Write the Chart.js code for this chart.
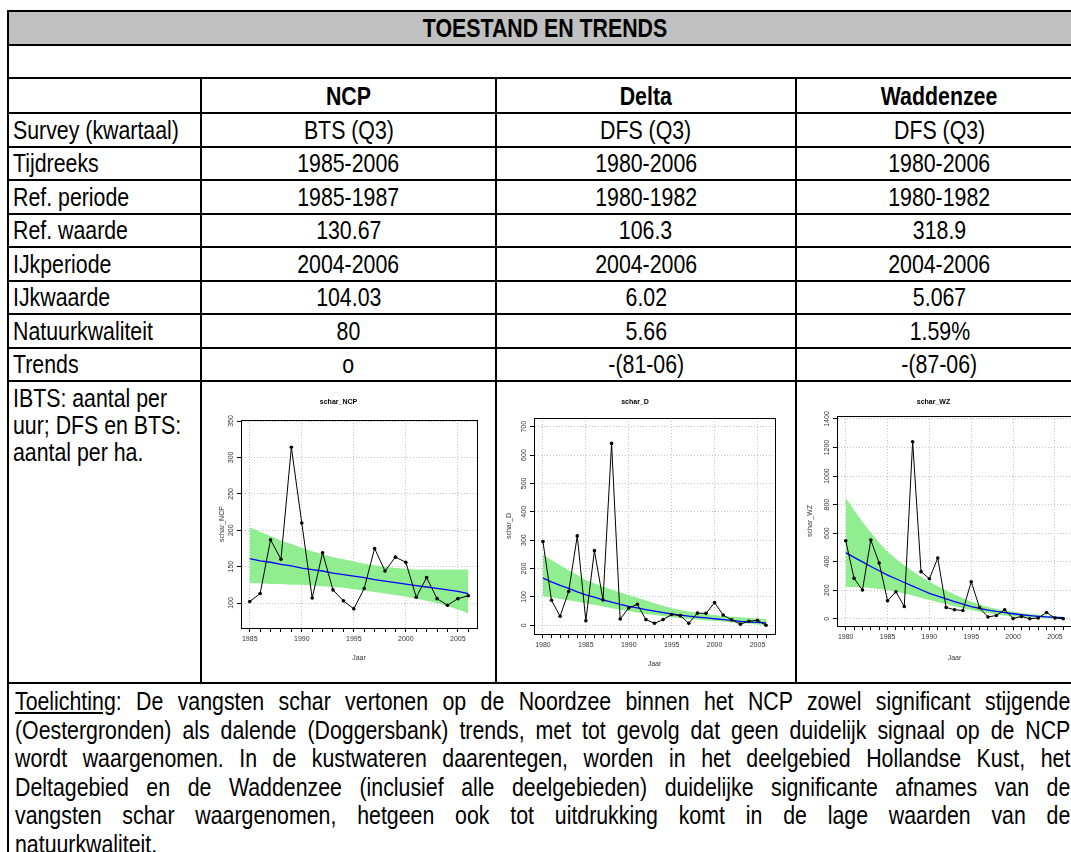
<!DOCTYPE html>
<html>
<head>
<meta charset="utf-8">
<script src="https://cdn.jsdelivr.net/npm/chart.js@4.4.1/dist/chart.umd.min.js"></script>
<style>
body { margin:0; width:1071px; height:852px; overflow:hidden; background:#fff; position:relative;
       font-family:"Liberation Sans", Arial, sans-serif; }
table { position:absolute; left:7px; top:10px; width:1075px; border-collapse:collapse; table-layout:fixed; font-size:26px; color:#000; }
td { border:2px solid #000; padding:0 4px; white-space:nowrap; overflow:hidden; line-height:28px; }
td.c { text-align:center; }
tr.kop td { background:#c0c0c0; text-align:center; font-weight:bold; }
tr.head td { font-weight:bold; text-align:center; }
/* smalle letter: Liberation Sans horizontaal samengedrukt */
.n { display:inline-block; transform:scaleX(0.82); transform-origin:left center; }
td.c .n, tr.kop .n, tr.head .n { transform-origin:center center; }
td.info { vertical-align:top; padding-top:3px; line-height:27px; }
td.toel { vertical-align:top; padding:3px 12px 0 6px; }
.regels { width:1287px; transform:scaleX(0.82); transform-origin:left top; line-height:28.5px; }
.regels div { text-align:justify; text-align-last:justify; white-space:nowrap; }
.regels div.laatste { text-align-last:left; }
.graf { position:absolute; }
</style>
</head>
<body>
<table>
  <colgroup><col style="width:193px"><col style="width:295px"><col style="width:300px"><col style="width:287px"></colgroup>
  <tr class="kop" style="height:34px"><td colspan="4"><span class="n">TOESTAND EN TRENDS</span></td></tr>
  <tr style="height:33px"><td colspan="4"></td></tr>
  <tr class="head" style="height:35px"><td></td><td><span class="n">NCP</span></td><td><span class="n">Delta</span></td><td><span class="n">Waddenzee</span></td></tr>
  <tr style="height:33.5px"><td><span class="n">Survey (kwartaal)</span></td><td class="c"><span class="n">BTS (Q3)</span></td><td class="c"><span class="n">DFS (Q3)</span></td><td class="c"><span class="n">DFS (Q3)</span></td></tr>
  <tr style="height:33.5px"><td><span class="n">Tijdreeks</span></td><td class="c"><span class="n">1985-2006</span></td><td class="c"><span class="n">1980-2006</span></td><td class="c"><span class="n">1980-2006</span></td></tr>
  <tr style="height:33.5px"><td><span class="n">Ref. periode</span></td><td class="c"><span class="n">1985-1987</span></td><td class="c"><span class="n">1980-1982</span></td><td class="c"><span class="n">1980-1982</span></td></tr>
  <tr style="height:33.5px"><td><span class="n">Ref. waarde</span></td><td class="c"><span class="n">130.67</span></td><td class="c"><span class="n">106.3</span></td><td class="c"><span class="n">318.9</span></td></tr>
  <tr style="height:33.5px"><td><span class="n">IJkperiode</span></td><td class="c"><span class="n">2004-2006</span></td><td class="c"><span class="n">2004-2006</span></td><td class="c"><span class="n">2004-2006</span></td></tr>
  <tr style="height:33.5px"><td><span class="n">IJkwaarde</span></td><td class="c"><span class="n">104.03</span></td><td class="c"><span class="n">6.02</span></td><td class="c"><span class="n">5.067</span></td></tr>
  <tr style="height:33.5px"><td><span class="n">Natuurkwaliteit</span></td><td class="c"><span class="n">80</span></td><td class="c"><span class="n">5.66</span></td><td class="c"><span class="n">1.59%</span></td></tr>
  <tr style="height:33.5px"><td><span class="n">Trends</span></td><td class="c"><span class="n">o</span></td><td class="c"><span class="n">-(81-06)</span></td><td class="c"><span class="n">-(87-06)</span></td></tr>
  <tr style="height:302px"><td class="info"><span class="n">IBTS: aantal per<br>uur; DFS en BTS:<br>aantal per ha.</span></td><td></td><td></td><td></td></tr>
  <tr style="height:200px"><td colspan="4" class="toel"><div class="regels">
    <div><u>Toelichting</u>: De vangsten schar vertonen op de Noordzee binnen het NCP zowel significant stijgende</div>
    <div>(Oestergronden) als dalende (Doggersbank) trends, met tot gevolg dat geen duidelijk signaal op de NCP</div>
    <div>wordt waargenomen. In de kustwateren daarentegen, worden in het deelgebied Hollandse Kust, het</div>
    <div>Deltagebied en de Waddenzee (inclusief alle deelgebieden) duidelijke significante afnames van de</div>
    <div>vangsten schar waargenomen, hetgeen ook tot uitdrukking komt in de lage waarden van de</div>
    <div class="laatste">natuurkwaliteit.</div>
  </div></td></tr>
</table>

<div class="graf" style="left:200px;top:381px;width:318px;height:300px"><canvas id="grafNCP" width="318" height="300"></canvas></div>
<div class="graf" style="left:495px;top:381px;width:319px;height:300px"><canvas id="grafD" width="319" height="300"></canvas></div>
<div class="graf" style="left:795px;top:381px;width:319px;height:300px"><canvas id="grafWZ" width="319" height="300"></canvas></div>

<script>
// jaartallen met een label op de x-as
const jaarLabels = [1980, 1985, 1990, 1995, 2000, 2005];

// NCP (BTS)
const ncpJaren = [1985, 1986, 1987, 1988, 1989, 1990, 1991, 1992, 1993, 1994, 1995, 1996, 1997, 1998, 1999, 2000, 2001, 2002, 2003, 2004, 2005, 2006];
const ncpWaarden = [102, 113, 187, 160, 314, 210, 107, 169, 118, 103, 92, 120, 175, 144, 163, 156, 108, 135, 106, 97, 106, 110];
const ncpTrend = [161, 158, 156, 153, 151, 148, 146, 144, 141, 139, 137, 135, 132, 130, 128, 126, 124, 122, 120, 118, 116, 113];
const ncpBoven = [204, 198, 192, 186, 181, 176, 171, 167, 163, 160, 157, 154, 152, 150, 148, 147, 146, 146, 146, 146, 146, 146];
const ncpOnder = [127, 127, 126, 126, 125, 125, 124, 123, 122, 121, 119, 117, 115, 113, 111, 109, 106, 103, 100, 96, 91, 86];
const ncpYTicks = [100, 150, 200, 250, 300, 350];

// Delta (DFS)
const deltaJaren = [1980, 1981, 1982, 1983, 1984, 1985, 1986, 1987, 1988, 1989, 1990, 1991, 1992, 1993, 1994, 1995, 1996, 1997, 1998, 1999, 2000, 2001, 2002, 2003, 2004, 2005, 2006];
const deltaWaarden = [295, 88, 32, 119, 315, 16, 263, 89, 641, 22, 61, 74, 20, 7, 20, 38, 34, 7, 43, 42, 80, 36, 19, 4, 14, 18, 0];
const deltaTrend = [166, 153, 141, 130, 118, 107, 99, 90, 82, 74, 67, 61, 55, 50, 45, 40, 36, 32, 29, 26, 23, 20, 17, 14, 12, 10, 8];
const deltaBoven = [250, 230, 212, 194, 177, 160, 148, 136, 126, 116, 107, 97, 87, 78, 69, 60, 54, 49, 44, 40, 36, 33, 30, 28, 26, 24, 22];
const deltaOnder = [103, 98, 93, 88, 83, 78, 72, 66, 60, 55, 50, 45, 40, 36, 32, 28, 25, 22, 20, 17, 15, 13, 10, 8, 6, 3, 1];
const deltaYTicks = [0, 100, 200, 300, 400, 500, 600, 700];

// Waddenzee (DFS)
const wzJaren = [1980, 1981, 1982, 1983, 1984, 1985, 1986, 1987, 1988, 1989, 1990, 1991, 1992, 1993, 1994, 1995, 1996, 1997, 1998, 1999, 2000, 2001, 2002, 2003, 2004, 2005, 2006];
const wzWaarden = [547, 283, 201, 552, 390, 126, 189, 86, 1241, 330, 280, 425, 79, 63, 58, 259, 77, 12, 23, 63, 2, 16, 0, 5, 44, 5, 0];
const wzTrend = [463, 430, 398, 366, 336, 306, 280, 254, 228, 203, 178, 158, 139, 120, 102, 84, 72, 61, 51, 43, 35, 28, 22, 17, 13, 10, 7];
const wzBoven = [848, 760, 680, 605, 535, 470, 420, 375, 333, 295, 260, 228, 198, 170, 143, 119, 100, 83, 70, 58, 49, 40, 33, 27, 22, 18, 14];
const wzOnder = [224, 222, 219, 215, 209, 201, 190, 177, 163, 147, 131, 116, 101, 87, 74, 61, 49, 38, 29, 22, 16, 12, 8, 5, 3, 2, 1];
const wzYTicks = [0, 200, 400, 600, 800, 1000, 1200, 1400];

const letter = {family: 'Liberation Sans, Arial, sans-serif', size: 7};

// kader rond het plotgebied
const kader = {
    id: 'kader',
    afterDraw(chart) {
        const a = chart.chartArea;
        const ctx = chart.ctx;
        ctx.save();
        ctx.strokeStyle = '#000';
        ctx.lineWidth = 1;
        ctx.strokeRect(Math.round(a.left) + 0.5, Math.round(a.top) + 0.5, Math.round(a.right - a.left), Math.round(a.bottom - a.top));
        ctx.restore();
    }
};

function grafiek(id, titel, yTitel, jaren, waarden, trend, boven, onder, yTicks, yMin, yMax, xMin, xMax, maat) {
    const punten = (lijst) => jaren.map((j, i) => ({x: j, y: lijst[i]}));
    new Chart(document.getElementById(id), {
        type: 'line',
        data: {
            datasets: [{
                data: punten(waarden),
                borderColor: '#000',
                borderWidth: 1,
                pointRadius: 1.8,
                pointBackgroundColor: '#000',
                pointBorderWidth: 0,
                fill: false
            }, {
                data: punten(trend),
                borderColor: '#0000ff',
                borderWidth: 1.3,
                pointRadius: 0,
                fill: false
            }, {
                data: punten(boven),
                borderWidth: 0,
                borderColor: 'rgba(0,0,0,0)',
                backgroundColor: '#90ee90',
                pointRadius: 0,
                fill: '+1'
            }, {
                data: punten(onder),
                borderWidth: 0,
                borderColor: 'rgba(0,0,0,0)',
                pointRadius: 0,
                fill: false
            }]
        },
        options: {
            responsive: false,
            animation: false,
            layout: {padding: {left: 0, right: maat.rechts, top: 0, bottom: 0}},
            plugins: {
                legend: {display: false},
                tooltip: {enabled: false},
                title: {
                    display: true,
                    text: titel,
                    color: '#000',
                    font: {family: letter.family, size: 7, weight: 'bold'},
                    padding: {top: maat.titelBoven, bottom: maat.titelOnder}
                }
            },
            scales: {
                x: {
                    type: 'linear',
                    min: xMin,
                    max: xMax,
                    afterBuildTicks: s => { s.ticks = jaren.map(j => ({value: j})); },
                    afterFit: s => { s.height = maat.xHoogte; },
                    ticks: {
                        autoSkip: false, minRotation: 0, maxRotation: 0,
                        font: letter, color: '#333', padding: 3,
                        callback: v => jaarLabels.includes(v) ? String(v) : ''
                    },
                    grid: {
                        color: c => (c.tick && jaarLabels.includes(c.tick.value)) ? '#c4c4c4' : 'rgba(0,0,0,0)',
                        tickLength: 4, tickColor: '#000', tickWidth: 1
                    },
                    border: {color: '#000', dash: [1, 2]},
                    title: {display: true, text: 'Jaar', color: '#333', font: letter, padding: {top: 0, bottom: maat.jaarOnder}}
                },
                y: {
                    min: yMin,
                    max: yMax,
                    afterBuildTicks: s => { s.ticks = yTicks.map(v => ({value: v})); },
                    afterFit: s => { s.width = maat.yBreedte; },
                    ticks: {
                        minRotation: 90, maxRotation: 90, crossAlign: 'center',
                        font: letter, color: '#333', padding: maat.yPad,
                        callback: v => String(v)
                    },
                    grid: {color: '#c4c4c4', tickLength: 4, tickColor: '#000', tickWidth: 1},
                    border: {color: '#000', dash: [1, 2]},
                    title: {display: true, text: yTitel, color: '#333', font: letter, padding: {top: maat.yTitel, bottom: 0}}
                }
            }
        },
        plugins: [kader]
    });
}

grafiek('grafNCP', 'schar_NCP', 'schar_NCP', ncpJaren, ncpWaarden, ncpTrend, ncpBoven, ncpOnder, ncpYTicks,
        65.7, 351.4, 1984.16, 2006.84,
        {rechts: 41, titelBoven: 16.8, titelOnder: 13.8, xHoogte: 53, jaarOnder: 19, yBreedte: 41, yPad: 0.2, yTitel: 18});
grafiek('grafD', 'schar_D', 'schar_D', deltaJaren, deltaWaarden, deltaTrend, deltaBoven, deltaOnder, deltaYTicks,
        -30.7, 730.6, 1978.96, 2007.04,
        {rechts: 39, titelBoven: 16.8, titelOnder: 11.8, xHoogte: 47, jaarOnder: 13, yBreedte: 39, yPad: 0.2, yTitel: 10});
grafiek('grafWZ', 'schar_WZ', 'schar_WZ', wzJaren, wzWaarden, wzTrend, wzBoven, wzOnder, wzYTicks,
        -51, 1421, 1978.96, 2007.04,
        {rechts: 42, titelBoven: 16.8, titelOnder: 9.8, xHoogte: 55, jaarOnder: 19, yBreedte: 42, yPad: -1.8, yTitel: 11});
</script>
</body>
</html>
